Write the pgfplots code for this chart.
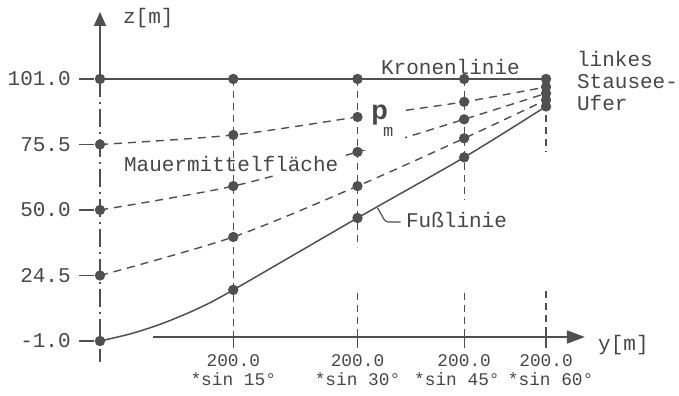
\documentclass[border=0pt]{standalone}
\usepackage{fontspec}
\setmainfont{Liberation Mono}
\newfontfamily\sansp{Liberation Sans}
\usepackage{pgfplots}
\pgfplotsset{compat=1.18}
\usetikzlibrary{arrows.meta}
\definecolor{ink}{HTML}{505050}
\definecolor{txt}{HTML}{474747}
\tikzset{lab/.style={text=txt, inner sep=0pt, font=\fontsize{21}{24}\selectfont},
  bl/.style={text=txt, inner sep=0pt, anchor=base, font=\fontsize{17.8}{20}\selectfont}}
\begin{document}
\fontsize{21}{24}\selectfont
\begin{tikzpicture}
\begin{axis}[hide axis, x=2.575pt, y=2.569pt,
  xmin=-38.83, xmax=224.85, ymin=-22.02, ymax=131.74, clip=false,
  mark size=4.4pt]
\coordinate (BL) at (axis cs:-38.83,-22.02);
\coordinate (TR) at (axis cs:224.85,131.74);
% Kronenlinie
\addplot[ink, line width=1.5pt, mark=*] coordinates {(0,101) (51.76,101) (100,101) (141.42,101) (173.21,101)};
% dashed lines
\addplot[ink, line width=1.4pt, dash pattern=on 8pt off 6pt, smooth, mark=*, mark options={solid}]
  coordinates {(0,75.5) (51.76,79.2) (100,86.2) (141.42,92.1) (173.21,97.9)};
\addplot[ink, line width=1.4pt, dash pattern=on 8pt off 6pt, smooth, mark=*, mark options={solid}]
  coordinates {(0,50.0) (51.76,59.3) (100,72.6) (141.42,85.3) (173.21,95.4)};
\addplot[ink, line width=1.4pt, dash pattern=on 8pt off 6pt, smooth, mark=*, mark options={solid}]
  coordinates {(0,24.5) (51.76,39.5) (100,59.3) (141.42,77.9) (173.21,92.8)};
% Fusslinie
\addplot[ink, line width=1.5pt, smooth, mark=*, mark indices={1,5,6,7,8}]
  coordinates {(0,-1.0) (12.6,2.0) (25.2,6.2) (38.8,12.0) (51.76,18.9) (100,46.9) (141.42,70.5) (173.21,90.3)};
% labels with white background
\node[lab, anchor=base west, fill=white, inner xsep=2pt, inner ysep=3pt] at (axis cs:8.5,64.8) {Mauermittelfläche};
\fill[white] (axis cs:102.1,73.3) rectangle (axis cs:118.4,92.8);
\node[lab, anchor=base west] at (axis cs:105.3,85.4) {\sansp\bfseries\fontsize{27}{27}\selectfont p};
\node[lab, anchor=base west] at (axis cs:109.9,78.6) {\fontsize{17}{17}\selectfont m};
% verticals
\addplot[ink, line width=1.3pt, dash pattern=on 18pt off 5pt on 2pt off 5pt] coordinates {(0,101) (0,-9.2)};
\addplot[ink, line width=1.3pt, dash pattern=on 7pt off 5pt] coordinates {(51.76,101) (51.76,0.56)};
\addplot[ink, line width=1.3pt, dash pattern=on 7pt off 5pt] coordinates {(100,101) (100,35.6)};
\addplot[ink, line width=1.3pt, dash pattern=on 7pt off 5pt] coordinates {(100,17.7) (100,0.56)};
\addplot[ink, line width=1.3pt, dash pattern=on 7pt off 5pt] coordinates {(141.42,101) (141.42,53.9)};
\addplot[ink, line width=1.3pt, dash pattern=on 7pt off 5pt] coordinates {(141.42,17.7) (141.42,0.56)};
\addplot[ink, line width=1.3pt, dash pattern=on 7pt off 5pt] coordinates {(173.21,101) (173.21,72.6)};
\addplot[ink, line width=1.3pt, dash pattern=on 7pt off 5pt] coordinates {(173.21,18.5) (173.21,0.56)};
% axes
\draw[ink, line width=1.6pt, -{Triangle[length=14pt,width=12pt]}] (axis cs:0,101) -- (axis cs:0,127.1);
\draw[ink, line width=1.6pt, -{Triangle[length=18pt,width=13pt]}] (axis cs:20.6,0.56) -- (axis cs:188.3,0.56);
% z ticks
\draw[ink, line width=1.4pt] (axis cs:-8.2,101) -- (axis cs:-2.3,101);
\draw[ink, line width=1.4pt] (axis cs:-8.2,75.5) -- (axis cs:-2.3,75.5);
\draw[ink, line width=1.4pt] (axis cs:-8.2,50) -- (axis cs:-2.3,50);
\draw[ink, line width=1.4pt] (axis cs:-8.2,24.5) -- (axis cs:-2.3,24.5);
\draw[ink, line width=1.4pt] (axis cs:-8.2,-1) -- (axis cs:-2.3,-1);
\node[lab, anchor=east] at (axis cs:-11.3,101) {101.0};
\node[lab, anchor=east] at (axis cs:-11.3,75.5) {75.5};
\node[lab, anchor=east] at (axis cs:-11.3,50) {50.0};
\node[lab, anchor=east] at (axis cs:-11.3,24.5) {24.5};
\node[lab, anchor=east] at (axis cs:-11.3,-1) {-1.0};
% y ticks
\draw[ink, line width=1.3pt] (axis cs:51.76,2.5) -- (axis cs:51.76,-3.7);
\draw[ink, line width=1.3pt] (axis cs:100,2.5) -- (axis cs:100,-3.7);
\draw[ink, line width=1.3pt] (axis cs:141.42,2.5) -- (axis cs:141.42,-3.7);
\draw[ink, line width=1.3pt] (axis cs:173.21,2.5) -- (axis cs:173.21,-3.7);
\node[bl] at (axis cs:51.76,-11.1) {200.0};
\node[bl] at (axis cs:51.76,-18.5) {*sin 15°};
\node[bl] at (axis cs:100,-11.1) {200.0};
\node[bl] at (axis cs:100,-18.5) {*sin 30°};
\node[bl] at (axis cs:141.42,-11.1) {200.0};
\node[bl] at (axis cs:138.6,-18.5) {*sin 45°};
\node[bl] at (axis cs:173.21,-11.1) {200.0};
\node[bl] at (axis cs:175.0,-18.5) {*sin 60°};
% axis labels
\node[lab, anchor=base west] at (axis cs:8.9,122.4) {z[m]};
\node[lab, anchor=base west] at (axis cs:193.4,-4.5) {y[m]};
% other labels
\node[lab, anchor=base west] at (axis cs:109.1,102.9) {Kronenlinie};
\node[lab, anchor=base west] at (axis cs:185.2,105.7) {linkes};
\node[lab, anchor=base west] at (axis cs:185.2,97.1) {Stausee-};
\node[lab, anchor=base west] at (axis cs:185.2,88.9) {Ufer};
\draw[ink, line width=1.2pt, rounded corners=3pt] (axis cs:107.8,50.8) -- (axis cs:110.9,45.3) -- (axis cs:116.7,45.3);
\node[lab, anchor=base west] at (axis cs:118.8,43.0) {Fußlinie};
\end{axis}
\pgfresetboundingbox
\useasboundingbox (BL) rectangle (TR);
\end{tikzpicture}
\end{document}
